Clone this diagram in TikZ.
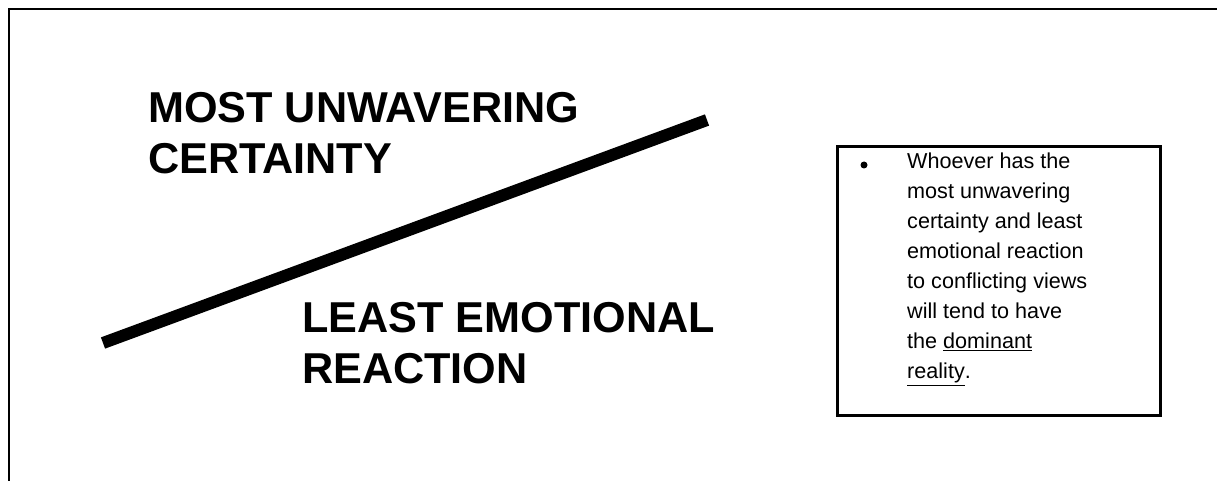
\documentclass[tikz,border=0pt]{standalone}
\usepackage{fontspec}
\setmainfont{Liberation Sans}
\tikzset{
  bigtext/.style={font=\bfseries\fontsize{43.2}{51.5}\selectfont, inner sep=0pt, align=left, anchor=north west},
  smalltext/.style={font=\fontsize{21.6}{30}\selectfont, inner sep=0pt, align=left, anchor=north west},
  framebox/.style={draw, line width=3pt, minimum width=323pt, minimum height=268pt, inner sep=0pt, outer sep=0pt},
  bulletdot/.style={circle, fill, inner sep=0pt, minimum size=7pt},
  divider/.style={line width=12pt}
}
\begin{document}
\begin{tikzpicture}[x=1pt,y=-1pt]
\useasboundingbox (0,0) rectangle (1217,481);
\fill[white] (0,0) rectangle (1217,481);
\coordinate (fbl) at (9,481);
\coordinate (ftl) at (9,9);
\coordinate (ftr) at (1217,9);
\draw[line width=2pt] (fbl) -- (ftl) -- (ftr);
\coordinate (la) at (103,343);
\coordinate (lb) at (707,120);
\draw[divider] (la) -- (lb);
\node[bigtext] (most) at (148,92) {MOST UNWAVERING\\CERTAINTY};
\node[bigtext] (least) at (302,302) {LEAST EMOTIONAL\\REACTION};
\node[framebox] (box) at (998.5,281) {};
\node[bulletdot] (bullet) at (864,165) {};
\node[smalltext] (txt) at (907,153) {Whoever has the\\most unwavering\\certainty and least\\emotional reaction\\to conflicting views\\will tend to have\\the \underline{dominant}\\\underline{reality}.};
\end{tikzpicture}
\end{document}
